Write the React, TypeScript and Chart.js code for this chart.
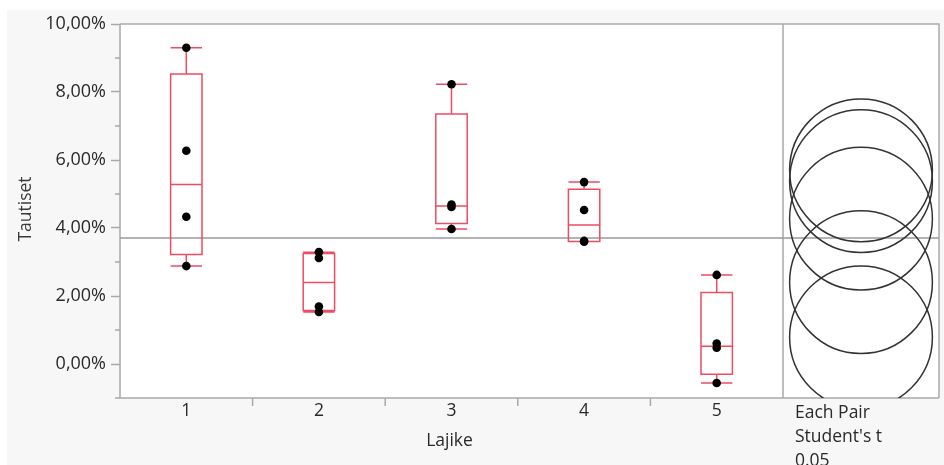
import React, { useEffect, useRef } from "react";
import { Chart, registerables } from "chart.js";

Chart.register(...registerables);

// ---- data ----
const categories = ["1", "2", "3", "4", "5"];
const points1 = [9.3, 6.27, 4.33, 2.88];
const points2 = [3.29, 3.12, 1.69, 1.53];
const points3 = [8.23, 4.69, 4.62, 3.97];
const points4 = [5.35, 4.53, 3.62, 3.6];
const points5 = [2.62, 0.6, 0.48, -0.56];
const groupPoints = [points1, points2, points3, points4, points5];

const boxLow = [2.88, 1.53, 3.97, 3.6, -0.56];
const boxQ1 = [3.22, 1.57, 4.13, 3.6, -0.3];
const boxMedian = [5.28, 2.4, 4.65, 4.09, 0.52];
const boxQ3 = [8.53, 3.25, 7.35, 5.14, 2.1];
const boxHigh = [9.3, 3.29, 8.23, 5.35, 2.62];

const circleRadius = 2.1; // comparison circle radius in % units
const yMin = -1;
const yMax = 10;
const yTitle = "Tautiset";
const xTitle = "Lajike";
const compareLines = ["Each Pair", "Student's t", "0.05"];

const FONT = "'Open Sans', 'Noto Sans', sans-serif";
const FRAME = "#a9a9a9";
const RED = "#ee4c63";
const TEXT = "#2a2a2a";

const mean = (a: number[]) => a.reduce((s, v) => s + v, 0) / a.length;

export default function App() {
  const ref = useRef<HTMLCanvasElement | null>(null);

  useEffect(() => {
    const canvas = ref.current;
    if (!canvas) return;

    const groupMeans = groupPoints.map(mean);
    const allPts = groupPoints.flat();
    const grandMean = mean(allPts);

    const PANEL_R = 939;

    const jmpPlugin = {
      id: "jmp",
      beforeDraw(chart: any) {
        const ctx = chart.ctx;
        const ca = chart.chartArea;
        ctx.save();
        ctx.fillStyle = "#ffffff";
        ctx.fillRect(0, 0, chart.width, chart.height);
        ctx.fillStyle = "#f7f7f7";
        ctx.fillRect(7, 10, chart.width - 7, chart.height - 10);
        ctx.fillStyle = "#ffffff";
        ctx.fillRect(ca.left, ca.top, PANEL_R - ca.left, ca.bottom - ca.top);
        ctx.restore();
      },
      beforeDatasetsDraw(chart: any) {
        const ctx = chart.ctx;
        const ca = chart.chartArea;
        const xs = chart.scales.x;
        const ys = chart.scales.y;
        ctx.save();
        // frame
        ctx.strokeStyle = FRAME;
        ctx.lineWidth = 1.5;
        ctx.beginPath();
        ctx.moveTo(ca.left, ca.top);
        ctx.lineTo(PANEL_R, ca.top);
        ctx.lineTo(PANEL_R, ca.bottom);
        ctx.moveTo(ca.right, ca.top);
        ctx.lineTo(ca.right, ca.bottom);
        ctx.moveTo(ca.left, ca.top);
        ctx.lineTo(ca.left, ca.bottom);
        ctx.lineTo(PANEL_R, ca.bottom);
        ctx.stroke();
        // y minor ticks
        ctx.beginPath();
        for (let v = yMin; v <= yMax; v++) {
          if (Math.abs(v % 2) === 1) {
            const y = ys.getPixelForValue(v);
            ctx.moveTo(ca.left - 5, y);
            ctx.lineTo(ca.left, y);
          }
        }
        // x boundary ticks
        for (let i = 1; i < categories.length; i++) {
          const x = xs.getPixelForValue(i + 0.5);
          ctx.moveTo(x, ca.bottom);
          ctx.lineTo(x, ca.bottom + 8);
        }
        ctx.stroke();

        // grand mean line
        const gy = ys.getPixelForValue(grandMean);
        ctx.strokeStyle = "#9a9a9a";
        ctx.lineWidth = 1.6;
        ctx.beginPath();
        ctx.moveTo(ca.left, gy);
        ctx.lineTo(PANEL_R, gy);
        ctx.stroke();

        // box plots
        ctx.strokeStyle = RED;
        ctx.lineWidth = 1.5;
        const hw = 15.7;
        for (let i = 0; i < categories.length; i++) {
          const xc = xs.getPixelForValue(i + 1);
          const yq1 = ys.getPixelForValue(boxQ1[i]);
          const yq3 = ys.getPixelForValue(boxQ3[i]);
          const ym = ys.getPixelForValue(boxMedian[i]);
          const ylo = ys.getPixelForValue(boxLow[i]);
          const yhi = ys.getPixelForValue(boxHigh[i]);
          ctx.beginPath();
          ctx.rect(xc - hw, yq3, hw * 2, yq1 - yq3);
          ctx.moveTo(xc - hw, ym);
          ctx.lineTo(xc + hw, ym);
          ctx.moveTo(xc, yq3);
          ctx.lineTo(xc, yhi);
          ctx.moveTo(xc - hw, yhi);
          ctx.lineTo(xc + hw, yhi);
          ctx.moveTo(xc, yq1);
          ctx.lineTo(xc, ylo);
          ctx.moveTo(xc - hw, ylo);
          ctx.lineTo(xc + hw, ylo);
          ctx.stroke();
        }

        // comparison circles
        ctx.save();
        ctx.beginPath();
        ctx.rect(ca.right, ca.top, PANEL_R - ca.right, ca.bottom - ca.top);
        ctx.clip();
        ctx.strokeStyle = "#333333";
        ctx.lineWidth = 1.5;
        const cx = (ca.right + PANEL_R) / 2;
        const rpx = ys.getPixelForValue(0) - ys.getPixelForValue(circleRadius);
        groupMeans.forEach((m) => {
          ctx.beginPath();
          ctx.arc(cx, ys.getPixelForValue(m), rpx, 0, Math.PI * 2);
          ctx.stroke();
        });
        ctx.restore();
        ctx.restore();
      },
      afterDraw(chart: any) {
        const ctx = chart.ctx;
        const ca = chart.chartArea;
        ctx.save();
        ctx.fillStyle = TEXT;
        ctx.font = `17.5px ${FONT}`;
        ctx.textBaseline = "alphabetic";
        ctx.textAlign = "center";
        ctx.fillText(xTitle, (ca.left + ca.right) / 2 - 2, 446);
        ctx.textAlign = "left";
        compareLines.forEach((t, i) => {
          ctx.fillText(t, ca.right + 12, 418 + i * 24);
        });
        ctx.translate(31, (ca.top + ca.bottom) / 2 - 2);
        ctx.rotate(-Math.PI / 2);
        ctx.textAlign = "center";
        ctx.fillStyle = "#3a3a3a";
        ctx.fillText(yTitle, 0, 0);
        ctx.restore();
      },
    };

    const chart = new Chart(canvas, {
      type: "scatter",
      data: {
        datasets: [
          {
            data: groupPoints.flatMap((pts, i) => pts.map((y) => ({ x: i + 1, y }))),
            backgroundColor: "#000000",
            borderWidth: 0,
            pointRadius: 4.3,
            pointHoverRadius: 4.3,
          },
        ],
      },
      options: {
        responsive: false,
        animation: false,
        devicePixelRatio: 1,
        layout: { padding: { left: 0, top: 24, right: 944 - 783, bottom: 0 } },
        plugins: {
          legend: { display: false },
          tooltip: { enabled: false },
        },
        scales: {
          x: {
            type: "linear",
            min: 0.5,
            max: 5.5,
            afterBuildTicks: (scale: any) => {
              scale.ticks = categories.map((_, i) => ({ value: i + 1 }));
            },
            afterFit: (scale: any) => {
              scale.height = 465 - 398;
            },
            grid: { display: false, drawTicks: false },
            border: { display: false },
            ticks: {
              autoSkip: false,
              maxRotation: 0,
              padding: 3,
              color: TEXT,
              font: { family: FONT, size: 17.5 },
              callback: (v: any) => categories[Number(v) - 1] ?? "",
            },
          },
          y: {
            type: "linear",
            min: yMin,
            max: yMax,
            afterFit: (scale: any) => {
              scale.width = 120;
            },
            grid: {
              drawOnChartArea: false,
              drawTicks: true,
              tickLength: 9,
              tickWidth: 1.5,
              tickColor: (c: any) =>
                c.tick && Math.abs(c.tick.value % 2) === 0 ? FRAME : "rgba(0,0,0,0)",
            },
            border: { display: false },
            ticks: {
              stepSize: 1,
              padding: 5,
              color: TEXT,
              font: { family: FONT, size: 18 },
              callback: (v: any) =>
                Math.abs(Number(v) % 2) === 0
                  ? Number(v).toFixed(2).replace(".", ",") + "%"
                  : "",
            },
          },
        },
      },
      plugins: [jmpPlugin],
    } as any);

    return () => chart.destroy();
  }, []);

  return (
    <div style={{ position: "absolute", left: 0, top: 0, width: 944, height: 465 }}>
      <canvas ref={ref} width={944} height={465} style={{ display: "block", width: 944, height: 465 }} />
    </div>
  );
}
